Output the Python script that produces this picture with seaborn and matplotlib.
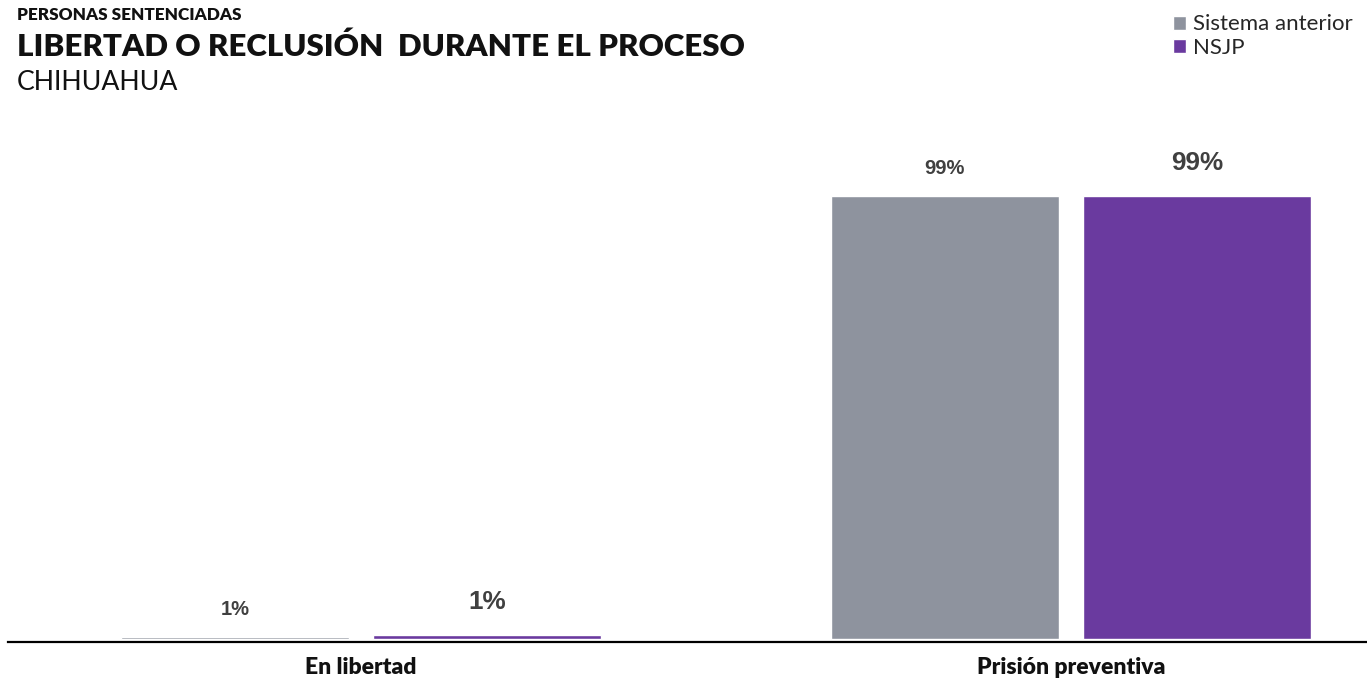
import matplotlib
matplotlib.use("Agg")
import matplotlib.pyplot as plt
import seaborn as sns
import pandas as pd

# values
categories = ["En libertad", "Prisión preventiva"]
series = ["Sistema anterior", "NSJP"]
sistema_anterior = [0.4, 99.0]
nsjp = [0.9, 99.0]
sistema_labels = ["1%", "99%"]
nsjp_labels = ["1%", "99%"]
colors = ["#8e939e", "#6a3a9f"]

df = pd.DataFrame({
    "categoria": categories * 2,
    "sistema": [series[0]] * len(categories) + [series[1]] * len(categories),
    "valor": sistema_anterior + nsjp,
})

sns.set_theme(style="white")
plt.rcParams["font.family"] = ["Lato", "DejaVu Sans"]

fig = plt.figure(figsize=(13.67, 6.81), dpi=100)
ax = fig.add_axes([0.00585, 0.058, 0.99415, 0.726])

sns.barplot(data=df, x="categoria", y="valor", hue="sistema", hue_order=series,
            palette=colors, saturation=1, width=0.71, gap=0.095, ax=ax)

ax.set_xlim(-0.497, 1.417)
# a little room below zero so the thin bars sit on top of the baseline
ax.set_ylim(-0.55, 110)
ax.set_xlabel("")
ax.set_ylabel("")
ax.set_yticks([])
for s in ["top", "right", "left"]:
    ax.spines[s].set_visible(False)
ax.spines["bottom"].set_color("black")
ax.spines["bottom"].set_linewidth(1.6)
ax.tick_params(axis="x", length=0, pad=11)
for lbl in ax.get_xticklabels():
    lbl.set_fontweight("heavy")
    lbl.set_fontsize(16.5)
    lbl.set_color("#111111")

# value labels: grey series smaller, purple series larger
ax.bar_label(ax.containers[0], labels=sistema_labels, padding=13, fontsize=14.5,
             fontweight="bold", color="#404040", family="Liberation Sans")
ax.bar_label(ax.containers[1], labels=nsjp_labels, padding=15, fontsize=18.8,
             fontweight="bold", color="#404040", family="Liberation Sans")

sns.move_legend(ax, "upper right", bbox_to_anchor=(1.0, 1.0),
                bbox_transform=fig.transFigure, title=None, frameon=False,
                fontsize=16, handlelength=0.6, handleheight=0.6,
                handletextpad=0.3, labelspacing=0.15, borderaxespad=0.45,
                borderpad=0.2)

fig.text(0.0124, 0.971, "PERSONAS SENTENCIADAS", fontsize=12.3, fontweight="heavy",
         color="#111111", va="baseline")
fig.text(0.0124, 0.918, "LIBERTAD O RECLUSIÓN  DURANTE EL PROCESO", fontsize=22.5,
         fontweight="heavy", color="#111111", va="baseline")
fig.text(0.0124, 0.868, "CHIHUAHUA", fontsize=19.2, color="#111111", va="baseline")

fig.savefig("out.png", dpi=100)
